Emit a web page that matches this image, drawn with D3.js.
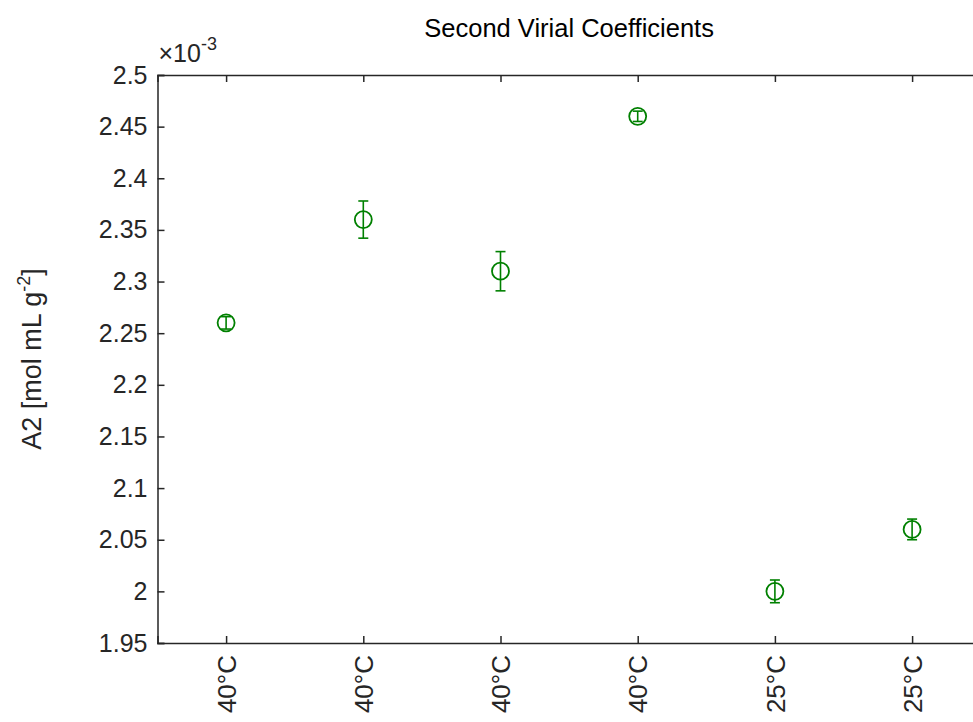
<!DOCTYPE html>
<html>
<head>
<meta charset="utf-8">
<script src="https://cdn.jsdelivr.net/npm/d3@7/dist/d3.min.js"></script>
<style>
  html, body { margin: 0; padding: 0; background: #fff; }
  svg { display: block; font-family: "Liberation Sans", Arial, sans-serif; }
</style>
</head>
<body>
<svg id="chart" width="973" height="722"></svg>
<script>
// Sample labels (measurement temperature) along the x axis
const categories = ["40°C", "40°C", "40°C", "40°C", "25°C", "25°C"];
// Second virial coefficient A2, in units of 1e-3 mol mL g^-2
const a2Values = [2.26, 2.36, 2.31, 2.46, 2.00, 2.06];
// Standard errors, same units
const a2Errors = [0.006, 0.018, 0.019, 0.005, 0.011, 0.010];
// Y tick values
const yTicks = [1.95, 2.0, 2.05, 2.1, 2.15, 2.2, 2.25, 2.3, 2.35, 2.4, 2.45, 2.5];

const svg = d3.select("#chart");
const margin = { left: 157.5, top: 75 };
const plotW = 823.2, plotH = 568;
const axisColor = "#262626";
const green = "#008000";

const g = svg.append("g").attr("transform", `translate(${margin.left},${margin.top})`);

const x = d3.scaleLinear().domain([0.5, 6.5]).range([0, plotW]);
const y = d3.scaleLinear().domain([1.95, 2.5]).range([plotH, 0]);

const fmt = v => d3.format("~g")(+v.toFixed(2));
const idx = categories.map((_, i) => i + 1);

// Bottom axis with inward ticks
const xAxis = g.append("g").attr("transform", `translate(0,${plotH})`)
  .call(d3.axisBottom(x).tickValues(idx).tickSize(-7).tickPadding(14)
    .tickFormat(d => categories[d - 1]));

// Top axis (box)
const xTop = g.append("g")
  .call(d3.axisTop(x).tickValues(idx).tickSize(-7).tickFormat(""));

// Left axis
const yAxis = g.append("g")
  .call(d3.axisLeft(y).tickValues(yTicks).tickSize(-7).tickPadding(10).tickFormat(fmt));

// Right axis (box)
const yRight = g.append("g").attr("transform", `translate(${plotW},0)`)
  .call(d3.axisRight(y).tickValues(yTicks).tickSize(-7).tickFormat(""));

[xAxis, xTop, yAxis, yRight].forEach(a => {
  a.select(".domain").attr("stroke", axisColor).attr("stroke-width", 1.5);
  a.selectAll(".tick line").attr("stroke", axisColor).attr("stroke-width", 1.5);
  a.selectAll("text").attr("fill", axisColor).style("font-size", "25px")
    .style("font-family", "'Liberation Sans', Arial, sans-serif");
});
xAxis.selectAll("text")
  .style("font-size", "26px")
  .attr("transform", "rotate(-90)")
  .attr("text-anchor", "end")
  .attr("x", -12).attr("y", 0).attr("dy", "0.35em");

// Exponent marker above the y axis
const expo = g.append("text").attr("x", 1).attr("y", -13)
  .attr("fill", axisColor).style("font-size", "25px");
expo.append("tspan").text("×10");
expo.append("tspan").attr("dy", -12).style("font-size", "18px").text("-3");

// Title
svg.append("text")
  .attr("x", margin.left + plotW / 2).attr("y", 37)
  .attr("text-anchor", "middle").attr("fill", "#000")
  .style("font-size", "25.5px").text("Second Virial Coefficients");

// Y axis label
const yl = svg.append("text")
  .attr("transform", `translate(41,${margin.top + plotH / 2}) rotate(-90)`)
  .attr("text-anchor", "middle").attr("fill", axisColor)
  .style("font-size", "27px");
yl.append("tspan").text("A2 [mol mL g");
yl.append("tspan").attr("dy", -11).style("font-size", "18px").text("-2");
yl.append("tspan").attr("dy", 11).text("]");

// Data: error bars and open circle markers
const data = a2Values.map((v, i) => ({ i: i + 1, v, e: a2Errors[i] }));
const pts = g.append("g").selectAll("g").data(data).join("g");
const cap = 5;
pts.append("line")
  .attr("x1", d => x(d.i)).attr("x2", d => x(d.i))
  .attr("y1", d => y(d.v - d.e)).attr("y2", d => y(d.v + d.e));
pts.append("line")
  .attr("x1", d => x(d.i) - cap).attr("x2", d => x(d.i) + cap)
  .attr("y1", d => y(d.v + d.e)).attr("y2", d => y(d.v + d.e));
pts.append("line")
  .attr("x1", d => x(d.i) - cap).attr("x2", d => x(d.i) + cap)
  .attr("y1", d => y(d.v - d.e)).attr("y2", d => y(d.v - d.e));
pts.selectAll("line").attr("stroke", green).attr("stroke-width", 1.6);
pts.append("circle")
  .attr("cx", d => x(d.i)).attr("cy", d => y(d.v)).attr("r", 8.5)
  .attr("fill", "none").attr("stroke", green).attr("stroke-width", 1.8);
</script>
</body>
</html>
